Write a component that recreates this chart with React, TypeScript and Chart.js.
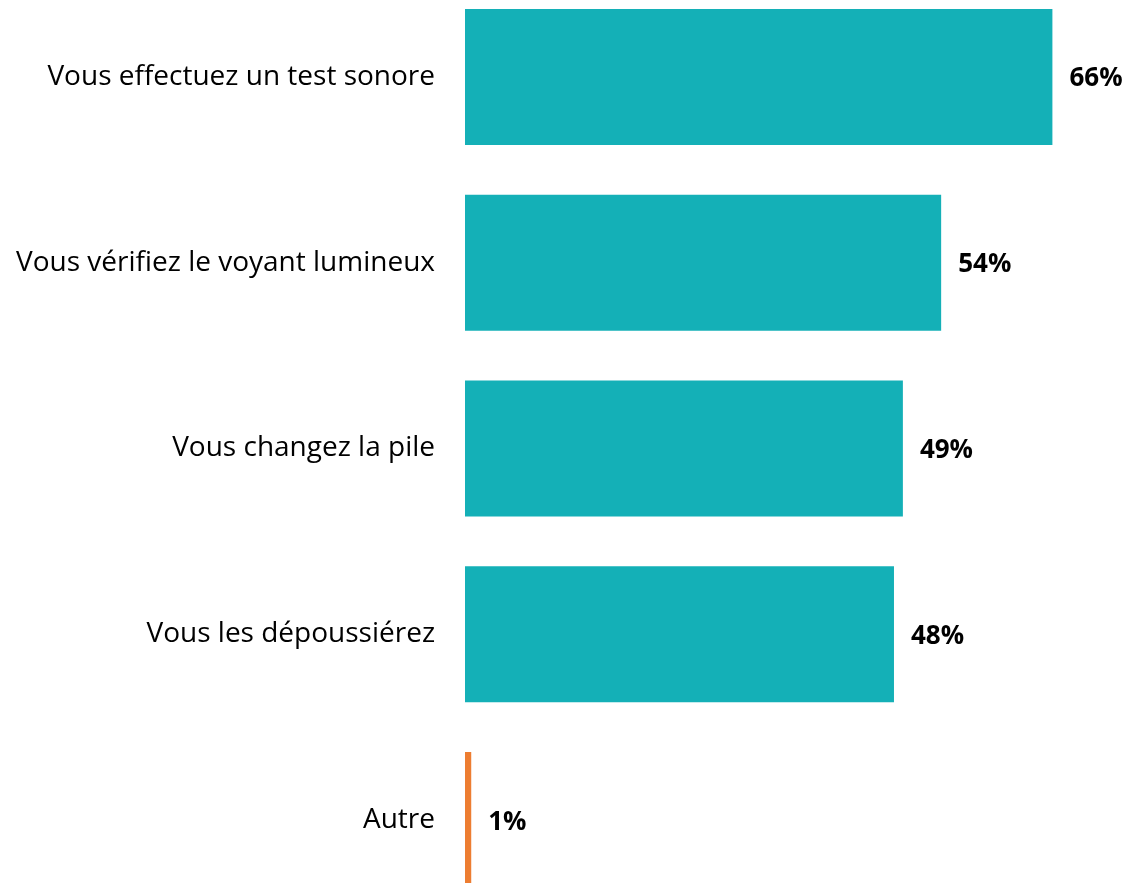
import React, { useEffect, useRef } from "react";
import { Chart, registerables } from "chart.js";

Chart.register(...registerables);

const categories = [
  "Vous effectuez un test sonore",
  "Vous vérifiez le voyant lumineux",
  "Vous changez la pile",
  "Vous les dépoussiérez",
  "Autre",
];
const values = [66, 53.5, 49.2, 48.2, 0.7];
const valueLabels = ["66%", "54%", "49%", "48%", "1%"];
const barColors = ["#14B0B7", "#14B0B7", "#14B0B7", "#14B0B7", "#ED7D31"];

const FONT = "'Open Sans', 'Liberation Sans', sans-serif";

const valueLabelPlugin = {
  id: "valueLabels",
  afterDatasetsDraw(chart: any) {
    const ctx = chart.ctx;
    const meta = chart.getDatasetMeta(0);
    ctx.save();
    ctx.font = `bold 26px ${FONT}`;
    ctx.fillStyle = "#000";
    ctx.textAlign = "left";
    ctx.textBaseline = "middle";
    meta.data.forEach((bar: any, i: number) => {
      ctx.fillText(valueLabels[i], bar.x + 17, bar.y + 2);
    });
    ctx.restore();
  },
};

export default function App() {
  const ref = useRef<HTMLCanvasElement>(null);
  useEffect(() => {
    if (!ref.current) return;
    const chart = new Chart(ref.current, {
      type: "bar",
      data: {
        labels: categories,
        datasets: [
          {
            data: values,
            backgroundColor: barColors,
            borderWidth: 0,
            categoryPercentage: 1,
            barPercentage: 0.732,
          },
        ],
      },
      options: {
        indexAxis: "y",
        responsive: false,
        animation: false,
        devicePixelRatio: 1,
        layout: { padding: { left: 0, right: 38, top: 60, bottom: 60 } },
        plugins: { legend: { display: false }, tooltip: { enabled: false } },
        scales: {
          x: { display: false, min: 0, max: 70 },
          y: {
            grid: { display: false },
            border: { display: false },
            ticks: {
              color: "#000",
              padding: 22,
              font: { family: FONT, size: 28 },
            },
            afterFit: (scale: any) => {
              scale.width = 465;
            },
          },
        },
      },
      plugins: [valueLabelPlugin],
    });
    return () => chart.destroy();
  }, []);
  return (
    <div
      style={{
        position: "fixed",
        left: 0,
        top: 0,
        width: 1126,
        height: 883,
        overflow: "hidden",
        background: "#fff",
      }}
    >
      <canvas
        ref={ref}
        width={1126}
        height={1049}
        style={{ position: "absolute", left: 0, top: -76, width: 1126, height: 1049 }}
      />
    </div>
  );
}
